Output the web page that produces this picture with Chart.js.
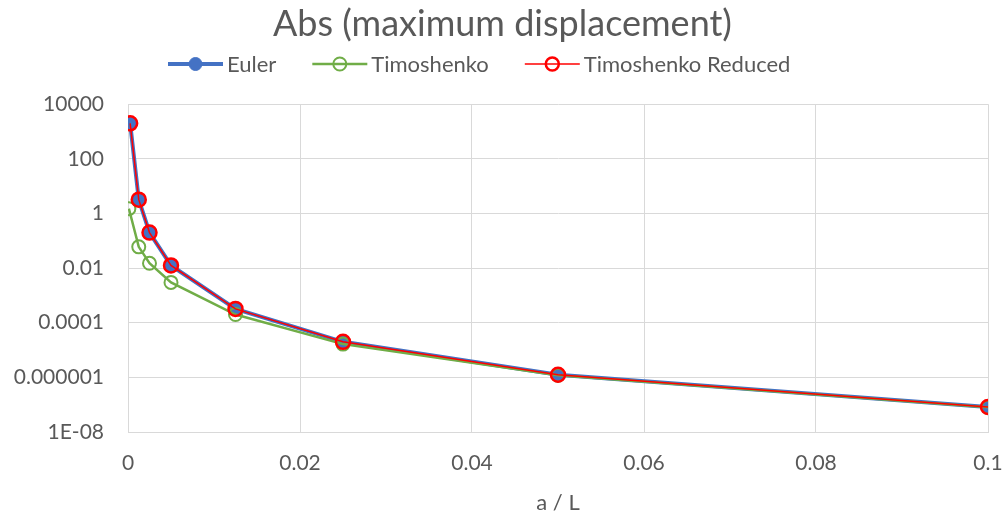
<!DOCTYPE html>
<html>
<head>
<meta charset="utf-8">
<script src="https://cdn.jsdelivr.net/npm/chart.js@4/dist/chart.umd.min.js"></script>
<style>
  html, body { margin: 0; padding: 0; background: #fff; }
  #wrap { width: 1005px; height: 519px; }
</style>
</head>
<body>
<div id="wrap"><canvas id="chart" width="1005" height="519"></canvas></div>
<script>
// a / L values
const aOverL = [0.00025, 0.00125, 0.0025, 0.005, 0.0125, 0.025, 0.05, 0.1];
const timoX = [0.0001, 0.00125, 0.0025, 0.005, 0.0125, 0.025, 0.05, 0.1];

// max displacement
const euler = [2000, 3.2, 0.2, 0.0125, 0.00032, 0.00002, 0.00000125, 0.000000082];
const timoshenko = [1.5, 0.06, 0.015, 0.003, 0.0002, 0.0000165, 0.0000012, 0.00000008];
const timoReduced = [2000, 3.2, 0.2, 0.0125, 0.00032, 0.00002, 0.00000125, 0.000000082];

const yTickValues = [1e-8, 1e-6, 1e-4, 1e-2, 1, 100, 10000];
const yTickLabels = ["1E-08", "0.000001", "0.0001", "0.01", "1", "100", "10000"];
const xTickLabels = ["0", "0.02", "0.04", "0.06", "0.08", "0.1"];

const FONT = "Lato, 'Open Sans', sans-serif";
const TEXT = "#595959";
const GRID = "#D9D9D9";

const toPoints = (xs, ys) => xs.map((x, i) => ({ x: x, y: ys[i] }));

// legend drawn like Excel: a short line with the marker in the middle
const lineLegend = {
  id: "lineLegend",
  afterDraw(chart) {
    const ctx = chart.ctx;
    const y = 64;
    const lineLen = 55, gapText = 4, gapItem = 36;
    ctx.save();
    ctx.font = "22px " + FONT;
    let x = 168;
    chart.data.datasets.forEach(ds => {
      ctx.strokeStyle = ds.borderColor;
      ctx.lineWidth = ds.borderWidth;
      ctx.beginPath();
      ctx.moveTo(x, y);
      ctx.lineTo(x + lineLen, y);
      ctx.stroke();
      ctx.beginPath();
      ctx.arc(x + lineLen / 2, y, 6.5, 0, Math.PI * 2);
      ctx.fillStyle = ds.pointBackgroundColor;
      ctx.fill();
      ctx.lineWidth = ds.pointBorderWidth;
      ctx.strokeStyle = ds.pointBorderColor;
      ctx.stroke();
      ctx.fillStyle = TEXT;
      ctx.textBaseline = "middle";
      ctx.textAlign = "left";
      ctx.fillText(ds.label, x + lineLen + gapText, y + 1);
      x += lineLen + gapText + ctx.measureText(ds.label).width + gapItem;
    });
    ctx.restore();
  }
};

new Chart(document.getElementById("chart"), {
  type: "line",
  data: {
    datasets: [
      {
        label: "Euler",
        data: toPoints(aOverL, euler),
        borderColor: "#4472C4",
        borderWidth: 4,
        pointRadius: 7,
        pointBackgroundColor: "#4472C4",
        pointBorderColor: "#4472C4",
        pointBorderWidth: 1,
        order: 3,
      },
      {
        label: "Timoshenko",
        data: toPoints(timoX, timoshenko),
        borderColor: "#70AD47",
        borderWidth: 2.5,
        pointRadius: 6.5,
        pointBackgroundColor: "rgba(0,0,0,0)",
        pointBorderColor: "#70AD47",
        pointBorderWidth: 2,
        order: 2,
      },
      {
        label: "Timoshenko Reduced",
        data: toPoints(aOverL, timoReduced),
        borderColor: "#FF0000",
        borderWidth: 1.5,
        pointRadius: 7,
        pointBackgroundColor: "rgba(0,0,0,0)",
        pointBorderColor: "#FF0000",
        pointBorderWidth: 2.5,
        order: 1,
      },
    ],
  },
  options: {
    responsive: false,
    animation: false,
    layout: { padding: { left: 0, right: 0, top: 0, bottom: 0 } },
    plugins: {
      legend: { display: false },
      tooltip: { enabled: false },
      title: {
        display: true,
        text: "Abs (maximum displacement)",
        color: TEXT,
        font: { family: FONT, size: 36, weight: "normal" },
        padding: { top: 3, bottom: 58 },
      },
    },
    scales: {
      x: {
        type: "linear",
        min: 0,
        max: 0.1,
        afterFit: (axis) => {
          axis.height = 87;
          axis.paddingRight = 17;
          axis.paddingLeft = 0;
        },
        ticks: {
          stepSize: 0.02,
          color: TEXT,
          font: { family: FONT, size: 21 },
          padding: 19,
          callback: (v) => xTickLabels[Math.round(v / 0.02)],
        },
        grid: { color: GRID, drawTicks: false },
        border: { color: GRID },
        title: {
          display: true,
          text: "a / L",
          color: TEXT,
          font: { family: FONT, size: 22 },
          padding: { top: 8, bottom: 3 },
        },
      },
      y: {
        type: "logarithmic",
        min: 1e-8,
        max: 1e4,
        afterBuildTicks: (axis) => {
          axis.ticks = yTickValues.map(v => ({ value: v }));
        },
        afterFit: (axis) => { axis.width = 128; },
        ticks: {
          color: TEXT,
          font: { family: FONT, size: 21 },
          padding: 24,
          callback: (v) => {
            const i = yTickValues.findIndex(t => Math.abs(Math.log10(t) - Math.log10(v)) < 1e-6);
            return i >= 0 ? yTickLabels[i] : "";
          },
        },
        grid: { color: GRID, drawTicks: false },
        border: { color: GRID },
      },
    },
  },
  plugins: [lineLegend],
});
</script>
</body>
</html>
